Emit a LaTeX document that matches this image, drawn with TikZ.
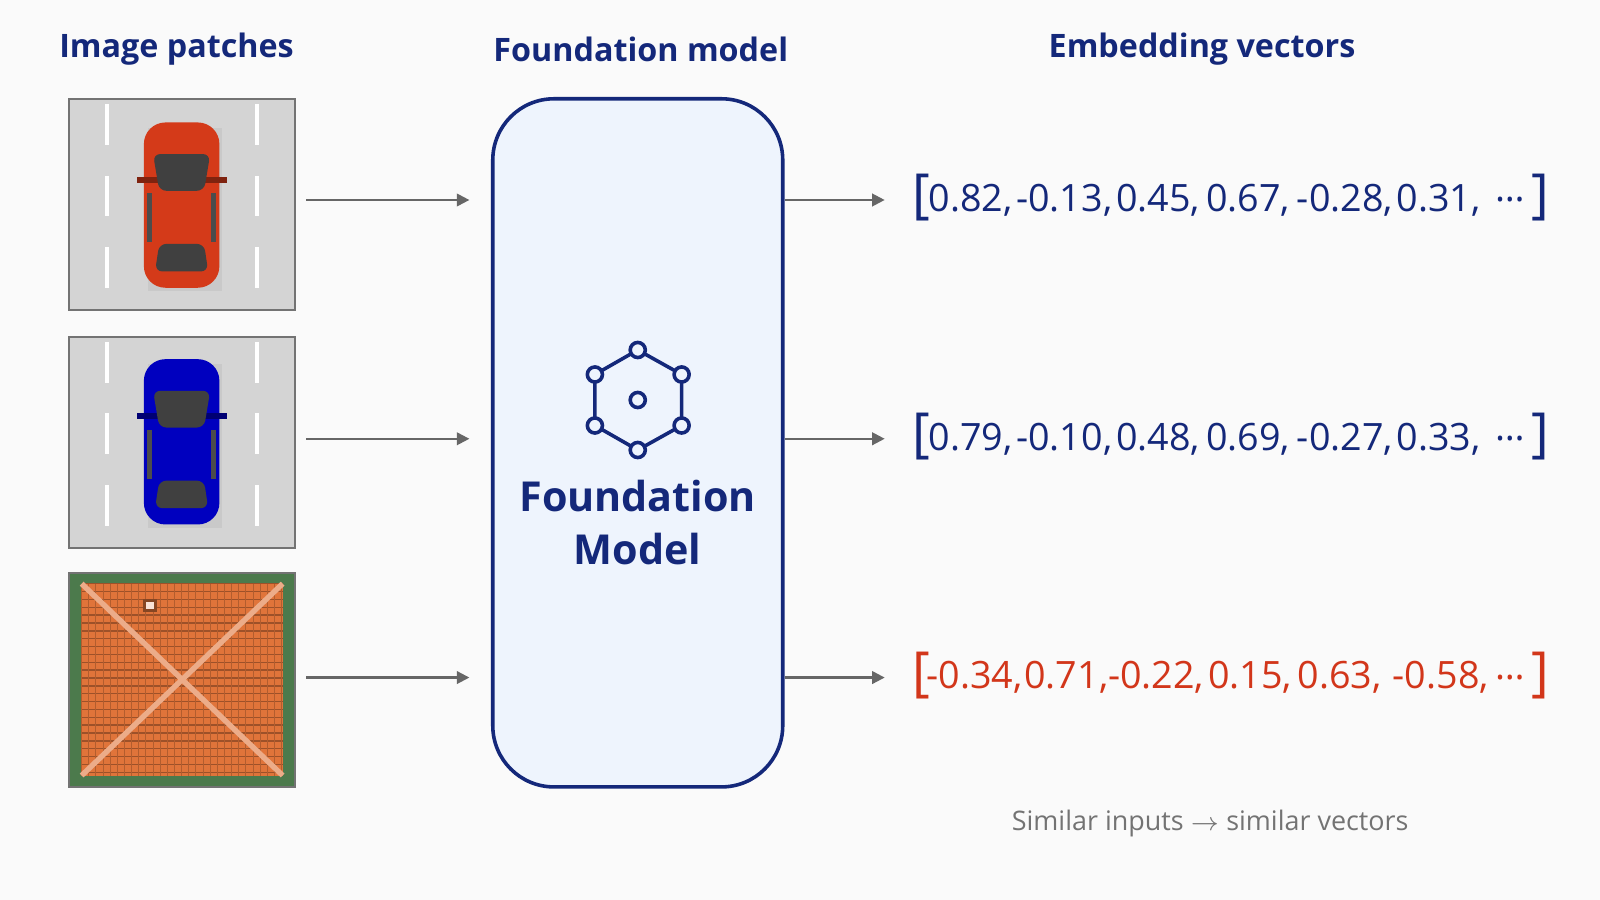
\documentclass[tikz,border=0pt]{standalone}
\usepackage{fontspec}
\setmainfont{Open Sans}
\usetikzlibrary{arrows.meta,positioning}
\definecolor{navy}{HTML}{14287A}
\definecolor{rust}{HTML}{D2361A}
\definecolor{boxfill}{HTML}{EEF4FD}
\definecolor{road}{HTML}{D4D4D4}
\definecolor{tile}{HTML}{E0743A}
\tikzset{
  title/.style={font=\fontsize{9}{11}\selectfont\bfseries, text=navy},
  patch/.style={draw=black!55, line width=0.6pt},
  flow/.style={-{Triangle[length=3.5pt,width=3.5pt]}, draw=black!60, line width=0.6pt},
  val/.style={font=\fontsize{10.5}{12}\selectfont, anchor=center},
  brk/.style={font=\fontsize{15}{16}\selectfont},
  knot/.style={circle, draw=navy, fill=boxfill, line width=1pt, inner sep=0pt, minimum size=4.2pt},
}
% top view of a car
\newcommand{\carat}[3]{%
  \fill[black!25,opacity=0.5] (#1-33,#2-76) rectangle (#1+40,#2+84);
  \fill[#3, rounded corners=6pt] (#1-37,#2-81) rectangle (#1+37,#2+81);
  \fill[#3!60!black] (#1-44,#2-28) rectangle (#1+44,#2-22);
  \fill[black!75, rounded corners=2pt] (#1-28,#2-50) -- (#1+28,#2-50) -- (#1+22,#2-14) -- (#1-22,#2-14) -- cycle;
  \fill[black!75, rounded corners=2pt] (#1-22,#2+38) -- (#1+22,#2+38) -- (#1+26,#2+65) -- (#1-26,#2+65) -- cycle;
  \fill[black!70] (#1-34,#2-12) rectangle (#1-29,#2+36);
  \fill[black!70] (#1+29,#2-12) rectangle (#1+34,#2+36);
}
\newcommand{\roadat}[2]{%
  \fill[road] (#1,#2) rectangle (#1+221,#2+207);
  \foreach \d in {0,70,140}{
    \fill[white] (#1+35,#2+5+\d) rectangle (#1+39,#2+45+\d);
    \fill[white] (#1+182,#2+5+\d) rectangle (#1+186,#2+45+\d);
  }
}
\begin{document}
\begin{tikzpicture}[x=0.01cm,y=-0.01cm]
\fill[black!2] (0,0) rectangle (1568,882);
\useasboundingbox (0,0) rectangle (1568,882);

% headings
\node[title] (hpatch) at (173,48) {Image patches};
\node[title] (hmodel) at (628,48) {Foundation model};
\node[title] (hvec) at (1178,48) {Embedding vectors};

% patches
\roadat{68}{97}
\carat{178}{201}{rust!95!orange}
\node[patch, minimum width=2.21cm, minimum height=2.07cm, inner sep=0pt] (p1) at (178.5,200.5) {};
\roadat{68}{330}
\carat{178}{433}{blue!75!black}
\node[patch, minimum width=2.21cm, minimum height=2.07cm, inner sep=0pt] (p2) at (178.5,433.5) {};
\fill[black!55!green!40!gray] (68,562) rectangle (289,771);
\fill[tile] (80,572) rectangle (277,760);
\foreach \t in {0,...,24}{
  \draw[tile!70!black, line width=0.4pt] (80,572+7.7*\t) -- (277,572+7.7*\t);
}
\foreach \t in {0,...,28}{
  \draw[tile!80!black, line width=0.3pt] (80+7*\t,572) -- (80+7*\t,760);
}
\draw[tile!60!white, line width=1.5pt] (80,572) -- (277,760) (277,572) -- (80,760);
\fill[tile!60!black] (140,587) rectangle (154,600);
\fill[white!80!tile] (143,590) rectangle (151,597);
\node[patch, minimum width=2.21cm, minimum height=2.09cm, inner sep=0pt] (p3) at (178.5,666.5) {};

% model box
\node[draw=navy, fill=boxfill, line width=1pt, rounded corners=0.6cm,
  minimum width=2.84cm, minimum height=6.74cm] (fm) at (625,434) {};
\foreach \a in {90,30,-30,-90,-150,150}{
  \draw[navy, line width=1pt] (625,392) -- ++(\a:-0.5);
}
\draw[navy, line width=1pt] (625,343) -- (668,367) -- (668,417) -- (625,441) -- (583,417) -- (583,367) -- cycle;
\foreach \p [count=\i] in {(625,343),(668,367),(668,417),(625,441),(583,417),(583,367),(625,392)}{
  \node[knot] (k\i) at \p {};
}
\node[font=\fontsize{11.5}{15}\selectfont\bfseries, text=navy, align=center] (fmname) at (625,512) {Foundation\\Model};

% arrows
\foreach \y [count=\i] in {196,430,664}{
  \coordinate (in\i) at (300,\y);
  \coordinate (to\i) at (460,\y);
  \coordinate (out\i) at (769,\y);
  \coordinate (vec\i) at (867,\y);
  \draw[flow] (in\i) -- (to\i);
  \draw[flow] (out\i) -- (vec\i);
}

% vectors
\node[brk, text=navy] (b1l) at (903,194) {[};
\node[brk, text=navy] (b1r) at (1510,194) {]};
\foreach \v/\x in {{0.82,}/951,{-0.13,}/1043,{0.45,}/1135,{0.67,}/1223,{-0.28,}/1318,{0.31,}/1410,{\ldots}/1480}
  \node[val, text=navy] at (\x,196) {\v};
\node[brk, text=navy] (b2l) at (903,428) {[};
\node[brk, text=navy] (b2r) at (1510,428) {]};
\foreach \v/\x in {{0.79,}/951,{-0.10,}/1043,{0.48,}/1135,{0.69,}/1223,{-0.27,}/1318,{0.33,}/1410,{\ldots}/1480}
  \node[val, text=navy] at (\x,430) {\v};
\node[brk, text=rust] (b3l) at (903,662) {[};
\node[brk, text=rust] (b3r) at (1510,662) {]};
\foreach \v/\x in {{-0.34,}/955,{0.71,}/1045,{-0.22,}/1133,{0.15,}/1225,{0.63,}/1313,{-0.58,}/1412,{\ldots}/1480}
  \node[val, text=rust] at (\x,664) {\v};

\node[font=\fontsize{7.5}{9}\selectfont, text=black!55] (note) at (1186,807) {Similar inputs $\rightarrow$ similar vectors};
\end{tikzpicture}
\end{document}
